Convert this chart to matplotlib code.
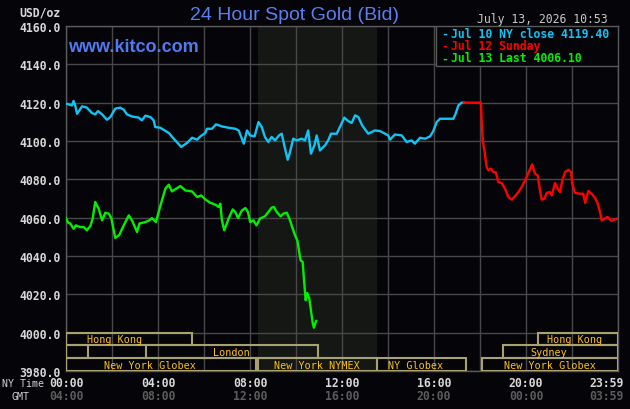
import matplotlib
matplotlib.use("Agg")
import matplotlib.pyplot as plt
from matplotlib.patches import Rectangle
from matplotlib.transforms import offset_copy

# ---------------- data ----------------
blue_t = [0.00, 0.26, 0.33, 0.40, 0.48, 0.70, 0.91, 1.13, 1.27, 1.39, 1.57, 1.78, 1.93, 2.14, 2.36, 2.51,
          2.65, 2.87, 3.16, 3.30, 3.45, 3.67, 3.81, 3.88, 4.10, 4.47, 4.75, 5.01, 5.26, 5.48, 5.70, 5.84,
          6.06, 6.13, 6.35, 6.52, 6.78, 7.07, 7.36, 7.51, 7.73, 7.87, 8.01, 8.20, 8.37, 8.51, 8.65, 8.80,
          8.94, 9.09, 9.26, 9.38, 9.49, 9.64, 9.74, 9.88, 10.03, 10.25, 10.39, 10.53, 10.65, 10.80, 10.90,
          11.04, 11.26, 11.40, 11.52, 11.77, 11.91, 12.10, 12.27, 12.42, 12.57, 12.71, 12.88, 13.14, 13.43,
          13.65, 13.87, 14.01, 14.09, 14.30, 14.60, 14.81, 15.03, 15.17, 15.39, 15.61, 15.83, 15.97, 16.12,
          16.26, 16.55, 16.84, 16.94, 17.06, 17.20, 17.30]
blue_v = [4119.5, 4118.6, 4120.9, 4118.6, 4114.2, 4118.1, 4117.4, 4114.6, 4113.9, 4115.6, 4113.9, 4111.1,
          4112.5, 4116.9, 4117.4, 4116.3, 4113.9, 4112.8, 4112.2, 4110.8, 4113.2, 4112.5, 4110.8, 4107.3,
          4106.9, 4104.2, 4100.3, 4096.9, 4099.0, 4101.7, 4100.7, 4102.4, 4104.2, 4106.4, 4106.4, 4108.7,
          4107.6, 4106.9, 4106.4, 4105.5, 4098.6, 4105.5, 4102.9, 4102.4, 4109.9, 4107.3, 4102.1, 4099.5,
          4102.1, 4100.3, 4102.9, 4103.8, 4097.7, 4090.2, 4094.3, 4101.2, 4100.3, 4101.2, 4100.3, 4105.5,
          4093.4, 4097.7, 4102.9, 4095.1, 4097.7, 4100.3, 4103.8, 4103.8, 4107.3, 4112.2, 4110.4, 4109.4,
          4113.4, 4112.5, 4108.1, 4103.8, 4105.5, 4105.2, 4103.8, 4102.9, 4100.7, 4103.4, 4102.9, 4099.5,
          4100.3, 4098.6, 4101.7, 4101.2, 4102.4, 4105.2, 4109.9, 4111.6, 4111.6, 4111.6, 4114.2, 4118.6,
          4120.0, 4120.0]

red_t = [17.30, 18.04, 18.07, 18.12, 18.19, 18.29, 18.36, 18.48, 18.58, 18.68, 18.80, 18.94, 19.09, 19.23,
         19.38, 19.52, 19.67, 19.81, 19.96, 20.10, 20.27, 20.39, 20.51, 20.61, 20.68, 20.80, 20.90, 21.04,
         21.12, 21.26, 21.38, 21.48, 21.58, 21.70, 21.84, 21.96, 22.01, 22.13, 22.35, 22.49, 22.57, 22.71,
         22.86, 23.00, 23.12, 23.22, 23.29, 23.43, 23.55, 23.70, 23.87, 23.98]
red_v = [4120.0, 4120.0, 4110.8, 4100.3, 4095.1, 4086.4, 4084.7, 4085.6, 4083.8, 4083.8, 4078.6, 4078.1,
         4075.1, 4070.8, 4069.4, 4071.1, 4073.4, 4076.0, 4079.4, 4083.3, 4087.8, 4083.0, 4082.0, 4074.2,
         4069.4, 4069.9, 4072.9, 4073.4, 4071.6, 4078.1, 4075.1, 4073.4, 4079.4, 4083.8, 4085.0, 4083.8,
         4077.7, 4072.9, 4072.5, 4072.5, 4067.7, 4073.9, 4072.5, 4070.4, 4067.3, 4063.0, 4058.6, 4059.5,
         4060.4, 4058.3, 4059.0, 4059.5]

green_t = [0.00, 0.09, 0.19, 0.33, 0.43, 0.62, 0.77, 0.91, 1.06, 1.16, 1.27, 1.42, 1.57, 1.71, 1.86, 1.97,
           2.14, 2.32, 2.51, 2.73, 2.87, 3.09, 3.19, 3.45, 3.62, 3.74, 3.91, 4.03, 4.17, 4.32, 4.47, 4.61,
           4.75, 4.97, 5.19, 5.48, 5.70, 5.88, 6.06, 6.27, 6.49, 6.64, 6.71, 6.78, 6.88, 7.07, 7.25, 7.36,
           7.48, 7.65, 7.80, 7.91, 8.01, 8.15, 8.28, 8.43, 8.65, 8.80, 8.94, 9.04, 9.16, 9.33, 9.45, 9.60,
           9.74, 9.86, 9.96, 10.06, 10.14, 10.20, 10.29, 10.35, 10.42, 10.49, 10.58, 10.64, 10.73, 10.78,
           10.84, 10.88]
green_v = [4059.8, 4057.4, 4056.9, 4054.2, 4056.0, 4055.1, 4055.1, 4053.4, 4055.7, 4059.5, 4068.2, 4064.7,
           4058.6, 4062.6, 4062.1, 4059.8, 4049.4, 4051.1, 4056.0, 4061.2, 4058.6, 4052.5, 4056.9, 4057.7,
           4058.6, 4059.8, 4057.7, 4063.0, 4069.0, 4075.1, 4077.2, 4073.7, 4074.8, 4076.5, 4074.2, 4073.7,
           4070.8, 4071.6, 4069.5, 4067.8, 4066.8, 4065.6, 4067.3, 4058.6, 4053.4, 4059.5, 4064.3, 4063.0,
           4059.8, 4063.8, 4065.0, 4063.0, 4057.7, 4058.6, 4056.0, 4059.5, 4060.7, 4063.0, 4065.2, 4065.6,
           4063.0, 4060.7, 4062.1, 4062.6, 4058.6, 4054.2, 4050.7, 4048.1, 4042.1, 4037.7, 4036.9, 4027.3,
           4016.9, 4020.7, 4017.7, 4012.5, 4004.7, 4002.6, 4005.1, 4006.1]

y_ticks = [3980, 4000, 4020, 4040, 4060, 4080, 4100, 4120, 4140, 4160]
x_ticks = [0, 4, 8, 12, 16, 20, 24]
ny_labels = ["00:00", "04:00", "08:00", "12:00", "16:00", "20:00", "23:59"]
gmt_labels = ["04:00", "08:00", "12:00", "16:00", "20:00", "00:00", "03:59"]

legend_labels = ["Jul 10 NY close 4119.40", "Jul 12 Sunday", "Jul 13 Last 4006.10"]

# sessions: (label, row, start hour, end hour, label hour)
sessions = [
    ("Hong Kong", 0, 0.00, 5.48, 2.13),
    ("Hong Kong", 0, 20.52, 24.0, 22.13),
    ("", 1, 0.00, 0.96, 0.48),
    ("London", 1, 3.48, 10.96, 7.20),
    ("Sydney", 1, 19.00, 24.0, 21.00),
    ("New York Globex", 2, 0.00, 8.28, 3.65),
    ("New York NYMEX", 2, 8.33, 13.52, 10.92),
    ("NY Globex", 2, 13.52, 17.38, 15.20),
    ("New York Globex", 2, 18.07, 24.0, 21.05),
]
nymex_shade = (8.33, 13.52)

# ---------------- style ----------------
BG = "#050408"
GRID = "#484848"
BLUE = "#10c4f4"
RED = "#ff0000"
GREEN = "#00f000"
BOXC = "#a8a270"
AMBER = "#ffc20a"
MONO = "DejaVu Sans Mono"

fig = plt.figure(figsize=(6.3, 4.1), dpi=100, facecolor=BG)
ax = fig.add_axes([66 / 630, 1 - 372 / 410, 552 / 630, 345 / 410])
ax.set_facecolor(BG)
ax.set_xlim(0, 24)
ax.set_ylim(3980, 4160)

ax.axvspan(nymex_shade[0], nymex_shade[1], color="#141714", zorder=0, lw=0)

for t in range(0, 25, 2):
    ax.axvline(t, color=GRID, lw=1.0, zorder=1)
for v in y_ticks:
    ax.axhline(v, color=GRID, lw=1.0, zorder=1)

for s in ax.spines.values():
    s.set_color("#5a5a5a")
    s.set_linewidth(1.0)

# session boxes
row_h = 20 / 3.0
for label, row, t0, t1, tl in sessions:
    ytop = 4000 - row * row_h
    ax.add_patch(Rectangle((t0, ytop - row_h), t1 - t0, row_h, fill=False,
                           edgecolor=BOXC, lw=1.5, zorder=3, clip_on=True))
    if label:
        ax.text(tl, ytop - row_h / 2, label, color=AMBER, fontsize=7.3, family=MONO,
                ha="center", va="center", zorder=4)

ax.plot(blue_t, blue_v, color=BLUE, lw=1.7, zorder=5)
ax.plot(red_t, red_v, color=RED, lw=1.7, zorder=5)
ax.plot(green_t, green_v, color=GREEN, lw=1.7, zorder=5)

# ticks
ax.set_yticks(y_ticks)
ax.set_yticklabels([f"{v:.1f}" for v in y_ticks], family=MONO, fontsize=8.3,
                   fontweight="bold", color="#d8d8d8")
ax.tick_params(axis="y", length=0, pad=4)
ax.set_xticks(x_ticks)
ax.set_xticklabels([])
ax.tick_params(axis="x", length=0)

xtr = ax.get_xaxis_transform()
for i, (t, a, b) in enumerate(zip(x_ticks, ny_labels, gmt_labels)):
    if i == len(x_ticks) - 1:
        tr = offset_copy(xtr, fig=fig, x=6, y=0, units="dots")
        ha = "right"
    else:
        tr = xtr
        ha = "center"
    ax.text(t, -0.033, a, transform=tr, ha=ha, va="center",
            family=MONO, fontsize=8.3, fontweight="bold", color="#d8d8d8")
    ax.text(t, -0.072, b, transform=tr, ha=ha, va="center",
            family=MONO, fontsize=8.3, fontweight="bold", color="#5c5c5c")
fig.text(23 / 630, 1 - 384 / 410, "NY Time", ha="center", va="center", family=MONO,
         fontsize=7.2, color="#d0d0d0")
fig.text(20 / 630, 1 - 397 / 410, "GMT", ha="center", va="center", family=MONO,
         fontsize=7.2, color="#d0d0d0")

# legend box
lx0 = (436 - 66) / 552
ly0 = (372 - 67) / 345
ax.add_patch(Rectangle((lx0, ly0), 1 - lx0, 1 - ly0, transform=ax.transAxes,
                       facecolor=BG, edgecolor="#5a5a5a", lw=1.0, zorder=8))
for i, (lab, c) in enumerate(zip(legend_labels, [BLUE, RED, GREEN])):
    yy = 1 - (34 + i * 12.5 - 27) / 345
    ax.text((441 - 66) / 552, yy, "-", transform=ax.transAxes, color=c, family=MONO,
            fontsize=8.3, fontweight="bold", ha="left", va="center", zorder=9)
    ax.text((451 - 66) / 552, yy, lab, transform=ax.transAxes, color=c, family=MONO,
            fontsize=8.3, fontweight="bold", ha="left", va="center", zorder=9)

# header texts
fig.text(294 / 630, 1 - 16 / 410, "24 Hour Spot Gold (Bid)", ha="center", va="center",
         family="Liberation Sans", fontsize=14, color="#5a7ff2")
fig.text(68 / 630, 1 - 48 / 410, "www.kitco.com", ha="left", va="center",
         family="Liberation Sans", fontsize=13, fontweight="bold", color="#4f7af0", zorder=10)
fig.text(61 / 630, 1 - 13.5 / 410, "USD/oz", ha="right", va="center", family=MONO,
         fontsize=8.3, fontweight="bold", color="#d8d8d8")
fig.text(608 / 630, 1 - 20 / 410, "July 13, 2026 10:53", ha="right", va="center", family=MONO,
         fontsize=8.3, color="#c8c8c8")

fig.savefig("out.png", dpi=100, facecolor=BG)
